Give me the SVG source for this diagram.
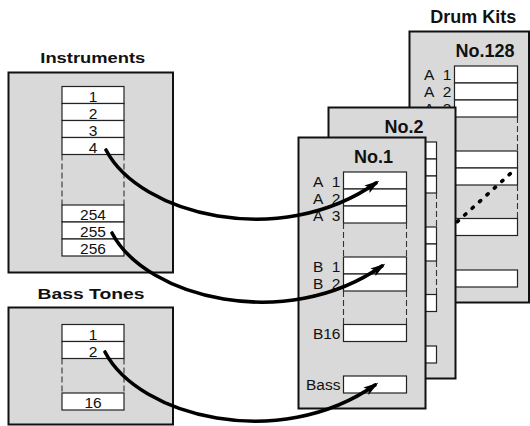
<svg xmlns="http://www.w3.org/2000/svg" width="530" height="426" viewBox="0 0 530 426">
<style>
text{font-family:"Liberation Sans",Arial,sans-serif;fill:#111}
.title{font-weight:bold;font-size:18px;text-anchor:middle}
.ptitle{font-weight:bold;font-size:18px;text-anchor:middle}
.num{font-size:15.5px;text-anchor:middle}
.lbl{font-size:15.5px;text-anchor:end}
.box{fill:#d9d9d9;stroke:#111;stroke-width:2}
.slot{fill:#fff;stroke:#222;stroke-width:1.2}
.dash{stroke:#333;stroke-width:1.1;stroke-dasharray:6 3;fill:none}
.conn{fill:none;stroke:#000;stroke-width:3.6;stroke-linecap:round}
.dots{fill:none;stroke:#000;stroke-width:3.6;stroke-linecap:round;stroke-dasharray:1.5 8.5}
</style>
<defs>
<marker id="arr" markerUnits="userSpaceOnUse" markerWidth="16" markerHeight="12" viewBox="0 0 16 12" refX="11" refY="6" orient="auto">
<path d="M0,1.5 L15,6 L0,10.5 L3,6 z" fill="#000"/>
</marker>
</defs>

<g id="instruments">
<text class="title" x="92.8" y="63.3" style="font-size:15px" textLength="105" lengthAdjust="spacingAndGlyphs">Instruments</text>
<rect class="box" x="8.5" y="72.5" width="164.5" height="200"/>
<rect class="slot" x="62" y="86.5" width="62" height="17"/>
<rect class="slot" x="62" y="103.5" width="62" height="17"/>
<rect class="slot" x="62" y="120.5" width="62" height="17"/>
<rect class="slot" x="62" y="137.5" width="62" height="17"/>
<line class="dash" x1="62" y1="154.5" x2="62" y2="205"/>
<line class="dash" x1="124" y1="154.5" x2="124" y2="205"/>
<rect class="slot" x="62" y="205" width="62" height="17"/>
<rect class="slot" x="62" y="222" width="62" height="17"/>
<rect class="slot" x="62" y="239" width="62" height="17"/>
<text class="num" x="93" y="101.5">1</text>
<text class="num" x="93" y="118.5">2</text>
<text class="num" x="93" y="135.5">3</text>
<text class="num" x="93" y="152.5">4</text>
<text class="num" x="93" y="220">254</text>
<text class="num" x="93" y="237">255</text>
<text class="num" x="93" y="254">256</text>
</g>

<g id="bass-tones">
<text class="title" x="91" y="299.3" style="font-size:15px" textLength="107" lengthAdjust="spacingAndGlyphs">Bass Tones</text>
<rect class="box" x="8.5" y="307.5" width="164.5" height="117"/>
<rect class="slot" x="62" y="324.5" width="62" height="17"/>
<rect class="slot" x="62" y="341.5" width="62" height="17"/>
<line class="dash" x1="62" y1="358.5" x2="62" y2="393"/>
<line class="dash" x1="124" y1="358.5" x2="124" y2="393"/>
<rect class="slot" x="62" y="393" width="62" height="17"/>
<text class="num" x="93" y="339.5">1</text>
<text class="num" x="93" y="356.5">2</text>
<text class="num" x="93" y="408">16</text>
</g>

<text class="title" x="473.3" y="22.7">Drum Kits</text>

<g id="kit-128" transform="translate(409.5,31.5)">
<rect class="box" x="0" y="0" width="119.5" height="271"/>
<text class="ptitle" x="75.5" y="25">No.128</text>
<rect class="slot" x="45" y="34.5" width="63" height="17"/>
<rect class="slot" x="45" y="51.5" width="63" height="17"/>
<rect class="slot" x="45" y="68.5" width="63" height="17"/>
<line class="dash" x1="45" y1="85.5" x2="45" y2="119.5"/>
<line class="dash" x1="108" y1="85.5" x2="108" y2="119.5"/>
<rect class="slot" x="45" y="119.5" width="63" height="17"/>
<rect class="slot" x="45" y="136.5" width="63" height="17"/>
<line class="dash" x1="45" y1="153.5" x2="45" y2="187"/>
<line class="dash" x1="108" y1="153.5" x2="108" y2="187"/>
<rect class="slot" x="45" y="187" width="63" height="17"/>
<rect class="slot" x="45" y="238.5" width="63" height="17"/>
<text class="lbl" x="42" y="48.5">A&#160;&#160;1</text>
<text class="lbl" x="42" y="65.5">A&#160;&#160;2</text>
<text class="lbl" x="42" y="82.5">A&#160;&#160;3</text>
</g>

<g id="kit-2" transform="translate(328.5,107.5)">
<rect class="box" x="0" y="0" width="127" height="271"/>
<text class="ptitle" x="75.5" y="25.8">No.2</text>
<rect class="slot" x="45" y="34.5" width="63" height="17"/>
<rect class="slot" x="45" y="51.5" width="63" height="17"/>
<rect class="slot" x="45" y="68.5" width="63" height="17"/>
<line class="dash" x1="45" y1="85.5" x2="45" y2="119.5"/>
<line class="dash" x1="108" y1="85.5" x2="108" y2="119.5"/>
<rect class="slot" x="45" y="119.5" width="63" height="17"/>
<rect class="slot" x="45" y="136.5" width="63" height="17"/>
<line class="dash" x1="45" y1="153.5" x2="45" y2="187"/>
<line class="dash" x1="108" y1="153.5" x2="108" y2="187"/>
<rect class="slot" x="45" y="187" width="63" height="17"/>
<rect class="slot" x="45" y="238.5" width="63" height="17"/>
</g>

<g id="kit-1" transform="translate(298.5,137.5)">
<rect class="box" x="0" y="0" width="127" height="271"/>
<text class="ptitle" x="75" y="25.8">No.1</text>
<rect class="slot" x="45" y="34.5" width="63" height="17"/>
<rect class="slot" x="45" y="51.5" width="63" height="17"/>
<rect class="slot" x="45" y="68.5" width="63" height="17"/>
<line class="dash" x1="45" y1="85.5" x2="45" y2="119.5"/>
<line class="dash" x1="108" y1="85.5" x2="108" y2="119.5"/>
<rect class="slot" x="45" y="119.5" width="63" height="17"/>
<rect class="slot" x="45" y="136.5" width="63" height="17"/>
<line class="dash" x1="45" y1="153.5" x2="45" y2="187"/>
<line class="dash" x1="108" y1="153.5" x2="108" y2="187"/>
<rect class="slot" x="45" y="187" width="63" height="17"/>
<rect class="slot" x="45" y="238.5" width="63" height="17"/>
<text class="lbl" x="42" y="49">A&#160;&#160;1</text>
<text class="lbl" x="42" y="66">A&#160;&#160;2</text>
<text class="lbl" x="42" y="83">A&#160;&#160;3</text>
<text class="lbl" x="42" y="134">B&#160;&#160;1</text>
<text class="lbl" x="42" y="151">B&#160;&#160;2</text>
<text class="lbl" x="42" y="201">B16</text>
<text class="lbl" x="42" y="252.5">Bass</text>
</g>

<g id="connectors">
<path class="dots" d="M457.3,221.7 L510.7,173.3"/>
<path class="conn" d="M106,150 C140,215 280,250 376,183" marker-end="url(#arr)"/>
<path class="conn" d="M112,233 C146,298 286,333 382,266" marker-end="url(#arr)"/>
<path class="conn" d="M105,352 C139,417 279,452 375,385" marker-end="url(#arr)"/>
</g>
</svg>
